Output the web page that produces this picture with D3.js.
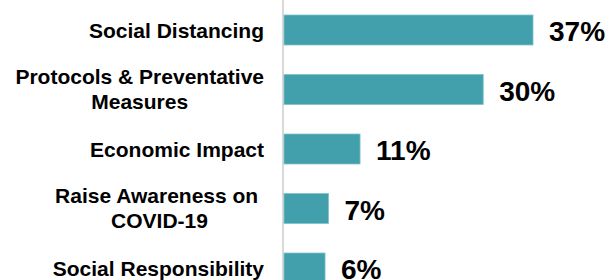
<!DOCTYPE html>
<html>
<head>
<meta charset="utf-8">
<script src="https://cdn.jsdelivr.net/npm/d3@7"></script>
<style>
html,body{margin:0;padding:0;background:#fff;}
svg{display:block;}
text{font-family:"Liberation Sans",Arial,sans-serif;font-weight:bold;fill:#000;}
</style>
</head>
<body>
<svg id="chart" width="607" height="280"></svg>
<script>
const categories = ["Social Distancing", "Protocols & Preventative Measures", "Economic Impact", "Raise Awareness on COVID-19", "Social Responsibility"];
const categoryLines = [["Social Distancing"], ["Protocols & Preventative", "Measures"], ["Economic Impact"], ["Raise Awareness on ", "COVID-19"], ["Social Responsibility"]];
const values = [37.0, 29.6, 11.3, 6.6, 6.1];

const W = 607, H = 280;
const svg = d3.select("#chart");

const x = d3.scaleLinear().domain([0, 100]).range([284, 284 + 673]);
const y = d3.scaleBand().domain(categories).range([0.25, 297.75]).paddingInner(0.496).paddingOuter(0.248);

// axis line
svg.append("line").attr("x1", 283).attr("x2", 283).attr("y1", 0).attr("y2", H)
  .attr("stroke", "#d9d9d9").attr("stroke-width", 2);

// bars
svg.selectAll("rect.bar").data(categories).enter().append("rect")
  .attr("class", "bar")
  .attr("x", x(0))
  .attr("y", d => y(d))
  .attr("width", (d, i) => x(values[i]) - x(0))
  .attr("height", y.bandwidth())
  .attr("fill", "#41a0ab")
  .attr("stroke", "#7cc3cb").attr("stroke-width", 0.8);

// value labels
svg.selectAll("text.val").data(categories).enter().append("text")
  .attr("class", "val")
  .attr("x", (d, i) => x(values[i]) + 16)
  .attr("y", d => y(d) + y.bandwidth() / 2 + 11)
  .style("font-size", "28px")
  .text((d, i) => d3.format(".0f")(values[i]) + "%");

// category labels
const labelRight = 264, lineH = 25, fs = 21;
categories.forEach((c, i) => {
  const lines = categoryLines[i];
  const cy = y(c) + y.bandwidth() / 2;
  const base = lines.length > 1 ? 7 : 8;
  const g = svg.append("g");
  const texts = lines.map((l, j) => g.append("text")
    .style("font-size", fs + "px").style("white-space", "pre")
    .attr("text-anchor", "middle")
    .attr("y", cy + base + (j - (lines.length - 1) / 2) * lineH)
    .text(l));
  const maxW = d3.max(texts, t => t.node().getComputedTextLength());
  texts.forEach(t => t.attr("x", labelRight - maxW / 2));
});
</script>
</body>
</html>
